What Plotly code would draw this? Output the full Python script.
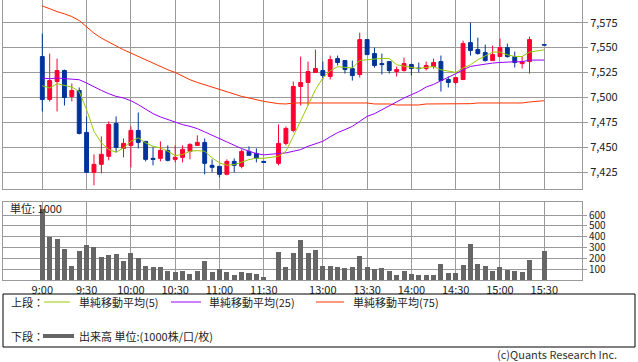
import plotly.graph_objects as go

# ---------------- data ----------------
times = ["9:00", "9:05", "9:10", "9:15", "9:20", "9:25", "9:30", "9:35", "9:40", "9:45",
         "9:50", "9:55", "10:00", "10:05", "10:10", "10:15", "10:20", "10:25", "10:30", "10:35",
         "10:40", "10:45", "10:50", "10:55", "11:00", "11:05", "11:10", "11:15", "11:20", "11:25",
         "11:30",
         "12:30", "12:35", "12:40", "12:45", "12:50", "12:55", "13:00", "13:05", "13:10", "13:15",
         "13:20", "13:25", "13:30", "13:35", "13:40", "13:45", "13:50", "13:55", "14:00", "14:05",
         "14:10", "14:15", "14:20", "14:25", "14:30", "14:35", "14:40", "14:45", "14:50", "14:55",
         "15:00", "15:05", "15:10", "15:15", "15:20",
         "15:30"]

opens = [7541, 7498, 7516, 7527, 7501, 7507, 7465, 7425, 7433, 7441, 7474, 7449, 7452, 7467, 7456,
         7439, 7439, 7447, 7438, 7440, 7446, 7452, 7455, 7432, 7431, 7423, 7436, 7431, 7446, 7444, 7436,
         7434, 7454, 7467, 7511, 7515, 7525, 7527, 7521, 7539, 7537, 7529, 7523, 7558, 7544, 7534,
         7536, 7526, 7527, 7533, 7529.5, 7529, 7531, 7536, 7518, 7515, 7518, 7555, 7548, 7545, 7537,
         7541, 7550, 7541, 7534, 7536,
         7553]
highs = [7564, 7544, 7539, 7528, 7514, 7510, 7481, 7443, 7461, 7476, 7481, 7459, 7471, 7485, 7456,
         7450, 7456, 7452, 7452, 7452, 7454, 7462, 7459, 7438, 7431, 7438, 7439, 7448, 7451, 7449, 7436,
         7473, 7471, 7516, 7541, 7536, 7548, 7536, 7542, 7542, 7537, 7537, 7565, 7558, 7550, 7544,
         7536, 7531, 7540, 7534, 7535, 7536, 7539, 7542, 7521, 7520, 7557, 7575, 7560, 7553, 7552,
         7559, 7554, 7546, 7541, 7561,
         7553]
lows = [7486, 7496, 7486, 7492, 7496, 7463, 7425, 7412, 7424, 7437, 7445, 7440, 7430, 7449, 7436,
        7432, 7436, 7436, 7435, 7435, 7438, 7452, 7423, 7425, 7420, 7422, 7425, 7429, 7442, 7435, 7435,
        7432, 7452, 7465, 7492, 7492, 7525, 7518, 7518, 7532, 7524, 7517, 7520, 7543, 7530, 7523,
        7524, 7521, 7526, 7522, 7525, 7527, 7529, 7506, 7510, 7513, 7518, 7542, 7543, 7536, 7537,
        7541, 7540, 7530, 7529, 7524,
        7552.5]
closes = [7498, 7517, 7527, 7500, 7507, 7464, 7425, 7433, 7443, 7473, 7450, 7454, 7467, 7455, 7438,
          7438, 7447, 7437, 7440, 7448, 7453, 7455, 7434, 7430, 7423, 7436, 7432, 7446, 7442, 7439, 7435,
          7454, 7469, 7511, 7515, 7526, 7529, 7522, 7538, 7535, 7528, 7522, 7558, 7543, 7532, 7533,
          7527, 7528, 7534, 7529, 7529, 7532, 7535, 7517, 7515, 7520, 7554, 7547, 7544, 7537, 7543,
          7550, 7541, 7535, 7536, 7558,
          7552.5]
volumes = [660, 397, 382, 290, 132, 269, 324, 306, 215, 233, 242, 178, 251, 205, 132,
           123, 123, 87, 78, 87, 59, 87, 178, 78, 105, 78, 50, 78, 69, 59, 32,
           260, 123, 251, 370, 251, 278, 132, 132, 123, 114, 123, 224, 123, 105, 114,
           87, 50, 87, 59, 50, 50, 50, 151, 69, 69, 142, 333, 151, 132, 87,
           123, 96, 87, 78, 187,
           269]
ma5 = [7511.8, 7509.5, 7513.8, 7512.1, 7510.5, 7506.1, 7487.8, 7466.1, 7454.5, 7447.8, 7445.1,
       7449.5, 7456.1, 7459.5, 7454.5, 7451.1, 7449.5, 7446.1, 7441.8, 7442.8, 7446.1, 7446.8,
       7446.1, 7439.5, 7434.5, 7432.1, 7432.8, 7435.1, 7437.8, 7439.1, 7439.1,
       7441.1, 7446.1, 7461.1, 7476.1, 7491.8, 7507.8, 7519.5, 7526.8, 7530.8, 7530.1, 7529.5,
       7537.1, 7537.5, 7538.5, 7539.1, 7539.1, 7532.8, 7531.1, 7530.1, 7529.1, 7530.1, 7531.1,
       7527.8, 7526.1, 7525.1, 7529.5, 7532.8, 7537.8, 7541.8, 7545.5, 7545.5, 7542.8, 7541.1,
       7541.1, 7545.5,
       7547.8]
ma25 = [7519.5, 7518.8, 7519.5, 7518.8, 7518.5, 7517.8, 7514.5, 7510.5, 7507.1, 7503.8, 7501.1,
        7499.5, 7496.8, 7492.8, 7488.5, 7483.8, 7480.5, 7477.8, 7475.8, 7472.8, 7471.1, 7468.8,
        7465.5, 7462.1, 7458.8, 7455.5, 7452.1, 7448.8, 7446.1, 7443.8, 7442.5,
        7443.5, 7444.5, 7446.1, 7447.8, 7451.1, 7453.5, 7456.1, 7460.6, 7464.8, 7467.8, 7471.1,
        7476.1, 7481.1, 7483.8, 7487.8, 7491.8, 7496.1, 7499.5, 7502.8, 7506.1, 7510.5, 7513.1,
        7516.8, 7520.1, 7523.8, 7527.8, 7531.1, 7532.3, 7533.5, 7534.5, 7535.1, 7535.8, 7535.8,
        7535.8, 7537.5,
        7537.5]
ma75 = [7591.8, 7588.8, 7586.1, 7583.8, 7581.1, 7577.1, 7570.5, 7564.5, 7559.5, 7555.5, 7551.1,
        7547.8, 7544.5, 7541.1, 7537.8, 7534.5, 7531.1, 7527.8, 7525.1, 7521.3, 7517.8, 7515.1,
        7512.8, 7510.1, 7507.8, 7505.8, 7503.5, 7501.1, 7499.5, 7497.8, 7496.1,
        7493.8, 7493.5, 7494.5, 7494.5, 7494.5, 7494.5, 7494.5, 7494.5, 7494.5, 7494.5, 7494.5,
        7494.5, 7494.5, 7493.5, 7493.5, 7493.5, 7492.5, 7492.5, 7492.5, 7492.5, 7493.5, 7493.5,
        7493.5, 7493.5, 7493.5, 7493.5, 7493.8, 7494.5, 7494.5, 7494.5, 7494.5, 7494.5, 7494.5,
        7494.5, 7495.5,
        7496.8]

tick_times = ["9:00", "9:30", "10:00", "10:30", "11:00", "11:30",
              "13:00", "13:30", "14:00", "14:30", "15:00", "15:30"]
price_ticks = [7425, 7450, 7475, 7500, 7525, 7550, 7575]
volume_ticks = [100, 200, 300, 400, 500, 600]

# ---------------- geometry helpers ----------------
W, H = 638, 362
ML, MR, MT, MB = 3, 56, 0, 82
PW, PH = W - ML - MR, H - MT - MB


def px(x):
    return (x - ML) / PW


def py(y):
    return (H - MB - y) / PH


def slot(t):
    """5-minute bar slot on a session axis (lunch break compressed)."""
    h, m = map(int, t.split(":"))
    mins = h * 60 + m - 540
    s = mins / 5
    if mins > 150:
        s -= 10
    return s


xs = [slot(t) for t in times]
tick_x = [slot(t) for t in tick_times]

FONT = "Noto Sans CJK JP, Liberation Sans, sans-serif"
GRID = "#9a9a9a"
RED = "#ff0033"
BLUE = "#003399"
C5, C25, C75 = "#99cc00", "#9900ff", "#ff3300"
VOL = "#666666"

fig = go.Figure()

fig.add_trace(go.Candlestick(
    x=xs, open=opens, high=highs, low=lows, close=closes,
    increasing=dict(line=dict(color=RED, width=1), fillcolor=RED),
    decreasing=dict(line=dict(color=BLUE, width=1), fillcolor=BLUE),
    whiskerwidth=0, xaxis="x", yaxis="y", showlegend=False, hoverinfo="skip"))

for vals, col in [(ma75, C75), (ma25, C25), (ma5, C5)]:
    fig.add_trace(go.Scatter(x=xs, y=vals, mode="lines", line=dict(color=col, width=1),
                             xaxis="x", yaxis="y", showlegend=False, hoverinfo="skip"))

fig.add_trace(go.Bar(x=xs, y=volumes, width=0.68, marker=dict(color=VOL, line=dict(width=0)),
                     xaxis="x2", yaxis="y2", showlegend=False, hoverinfo="skip"))

axis_common = dict(showgrid=True, gridcolor=GRID, gridwidth=1, zeroline=False,
                   showline=True, linecolor=GRID, linewidth=1, automargin=False,
                   tickfont=dict(family=FONT, size=11, color="#222"))

x_range = [(ML - 42.3) / 7.382, (ML + PW - 42.3) / 7.382]

fig.update_layout(
    width=W, height=H,
    margin=dict(l=ML, r=MR, t=MT, b=MB, pad=0, autoexpand=False),
    paper_bgcolor="white", plot_bgcolor="white",
    boxgap=0.25,
    bargap=0,
    font=dict(family=FONT, size=11, color="#222"),
    xaxis=dict(domain=[0, 1], range=x_range, anchor="y", tickvals=tick_x,
               showticklabels=False, ticks="", mirror=False, **axis_common,
               rangeslider=dict(visible=False)),
    yaxis=dict(domain=[py(189), 1], range=[7408.3, 7597.7], side="right", anchor="x",
               tickvals=price_ticks, ticktext=[f"{v:,}" for v in price_ticks],
               ticks="outside", ticklen=5, tickcolor=GRID, mirror=True, **axis_common),
    xaxis2=dict(domain=[0, 1], range=x_range, anchor="y2", tickvals=tick_x,
                ticktext=tick_times, ticks="", mirror=True, **axis_common),
    yaxis2=dict(domain=[0, py(202)], range=[0, 720], side="right", anchor="x2",
                tickvals=volume_ticks, ticks="outside", ticklen=4, tickcolor=GRID,
                mirror=True, **axis_common),
)
fig.update_layout(yaxis2_tickfont=dict(family=FONT, size=10, color="#222"))

ann = []
shapes = []

ann.append(dict(x=px(8), y=py(208), xref="paper", yref="paper", text="単位: 1000",
                showarrow=False, xanchor="left", yanchor="middle",
                font=dict(family=FONT, size=11, color="#222")))

# legend box
shapes.append(dict(type="rect", xref="paper", yref="paper",
                   x0=px(3), x1=px(635), y0=py(347), y1=py(294),
                   line=dict(color="#000", width=1), fillcolor="rgba(0,0,0,0)"))

row1, row2 = 302, 336
legend_items = [
    (44, 70, C5, "単純移動平均(5)", 77),
    (171, 201, C25, "単純移動平均(25)", 207),
    (316, 344, C75, "単純移動平均(75)", 351),
]
ann.append(dict(x=px(9), y=py(row1), xref="paper", yref="paper", text="上段：",
                showarrow=False, xanchor="left", yanchor="middle",
                font=dict(family=FONT, size=11, color="#222")))
for x0, x1, col, label, tx in legend_items:
    shapes.append(dict(type="line", xref="paper", yref="paper", x0=px(x0), x1=px(x1),
                       y0=py(row1), y1=py(row1), line=dict(color=col, width=1)))
    ann.append(dict(x=px(tx), y=py(row1), xref="paper", yref="paper", text=label,
                    showarrow=False, xanchor="left", yanchor="middle",
                    font=dict(family=FONT, size=11, color="#222")))

ann.append(dict(x=px(9), y=py(row2), xref="paper", yref="paper", text="下段：",
                showarrow=False, xanchor="left", yanchor="middle",
                font=dict(family=FONT, size=11, color="#222")))
shapes.append(dict(type="line", xref="paper", yref="paper", x0=px(43), x1=px(74),
                   y0=py(row2), y1=py(row2), line=dict(color=VOL, width=4)))
ann.append(dict(x=px(77), y=py(row2), xref="paper", yref="paper",
                text="出来高 単位:(1000株/口/枚)",
                showarrow=False, xanchor="left", yanchor="middle",
                font=dict(family=FONT, size=11, color="#222")))

ann.append(dict(x=px(619), y=py(354), xref="paper", yref="paper",
                text="(c)Quants Research Inc.",
                showarrow=False, xanchor="right", yanchor="middle",
                font=dict(family=FONT, size=11, color="#333")))

fig.update_layout(annotations=ann, shapes=shapes)

fig.write_html("out.html", config={"displayModeBar": False},
               post_script="document.body.style.margin='0';document.body.style.overflow='hidden';")
